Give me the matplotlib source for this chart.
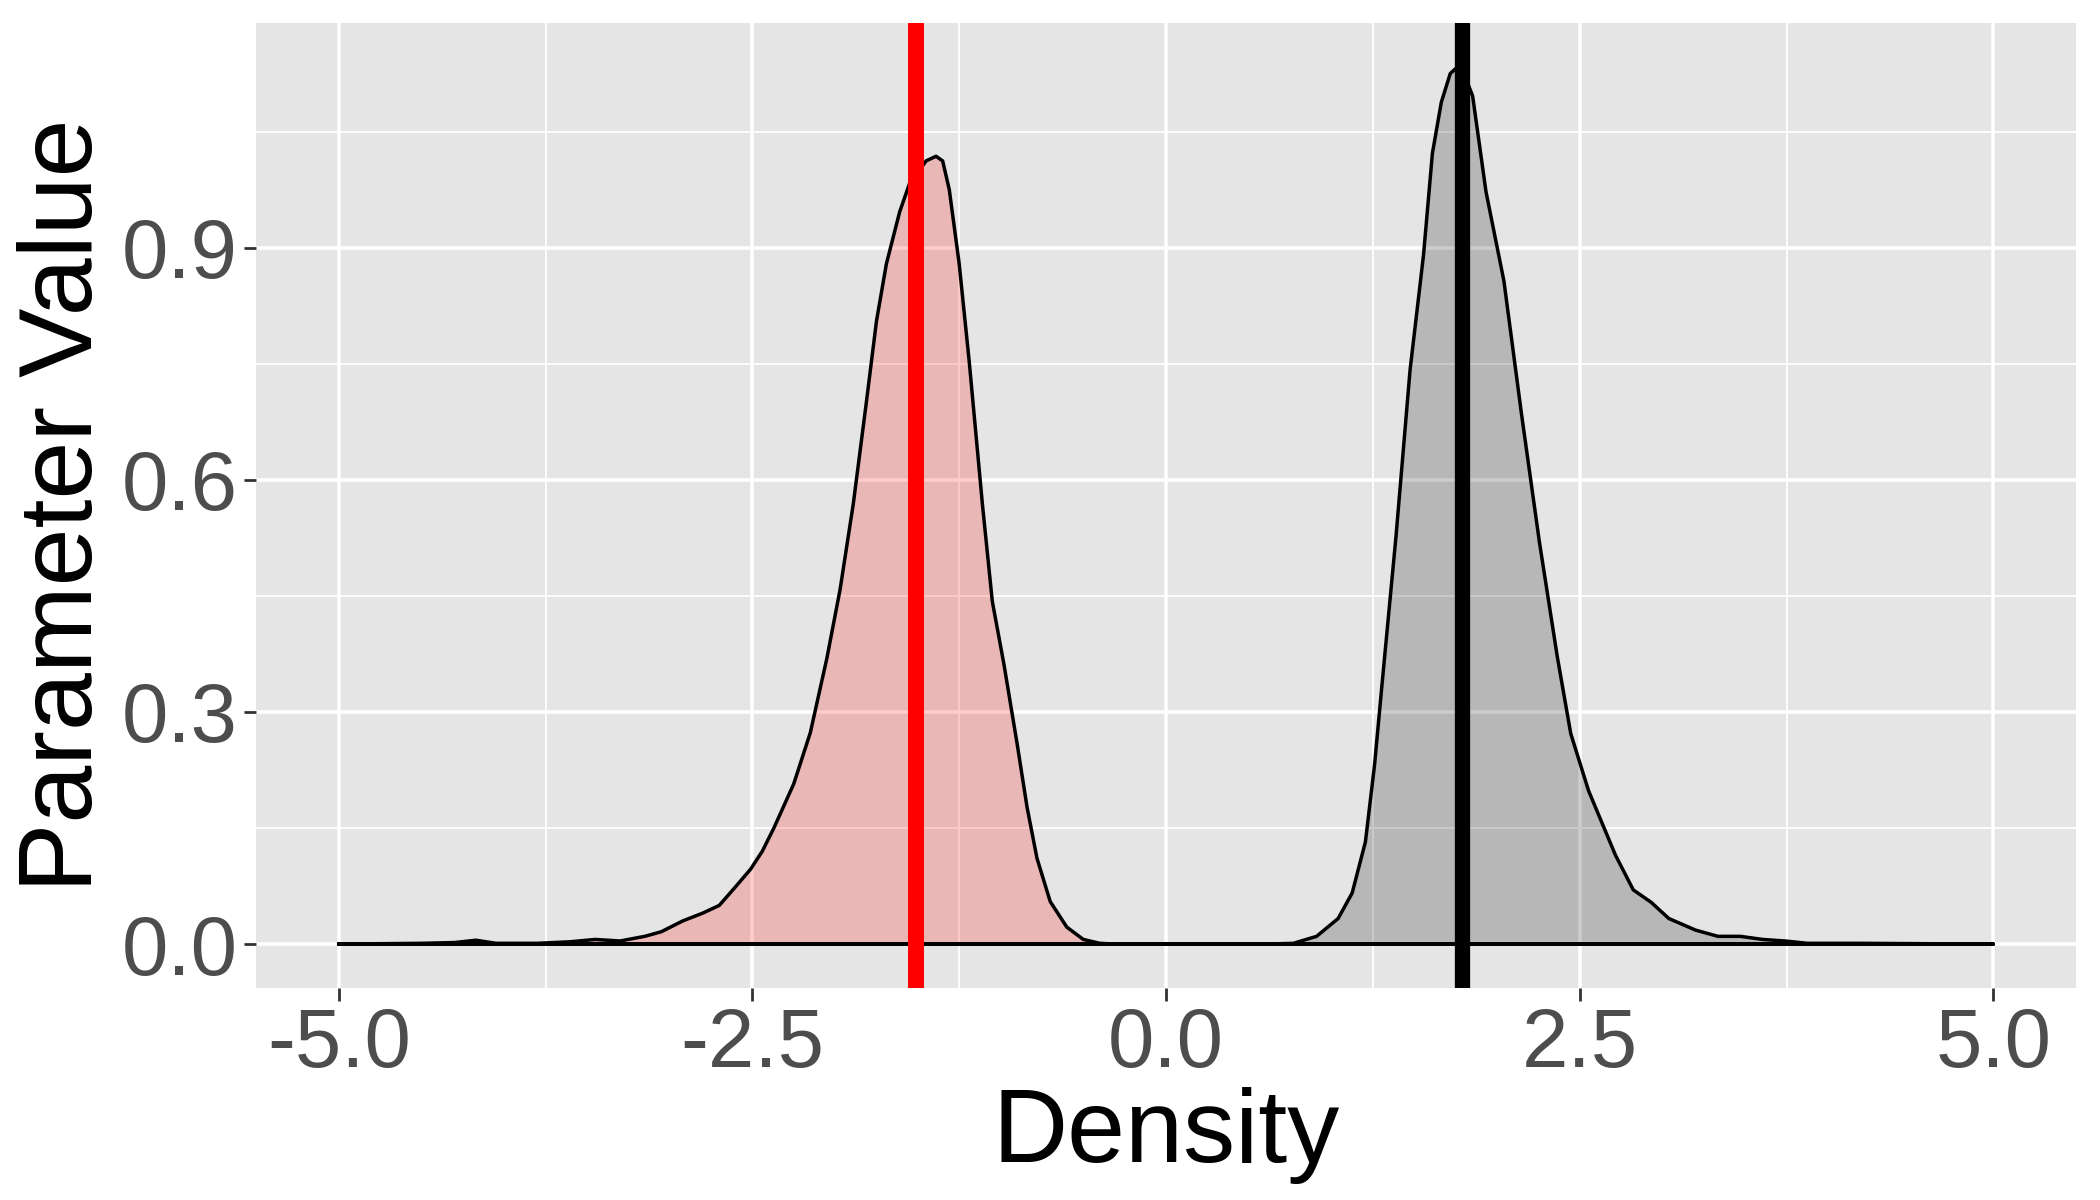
import matplotlib
matplotlib.use('Agg')
import matplotlib.pyplot as plt
from matplotlib.ticker import MultipleLocator

# density curves
red_x = [-5.0, -4.5, -4.3, -4.17, -4.05, -3.8, -3.6, -3.45, -3.3, -3.15, -3.05,
         -2.92, -2.8, -2.7, -2.61, -2.51, -2.44, -2.37, -2.25, -2.15, -2.05,
         -1.97, -1.89, -1.81, -1.75, -1.69, -1.61, -1.55, -1.45, -1.39, -1.35,
         -1.31, -1.25, -1.19, -1.11, -1.05, -0.98, -0.9, -0.84, -0.78, -0.7,
         -0.6, -0.5, -0.4, -0.3, 5.0]
red_y = [0.0, 0.001, 0.002, 0.005, 0.001, 0.001, 0.003, 0.006, 0.004, 0.010, 0.016,
         0.030, 0.040, 0.050, 0.072, 0.097, 0.120, 0.150, 0.207, 0.273, 0.369,
         0.458, 0.569, 0.702, 0.805, 0.879, 0.946, 0.983, 1.012, 1.018, 1.012,
         0.975, 0.879, 0.754, 0.569, 0.443, 0.362, 0.259, 0.177, 0.111, 0.055,
         0.022, 0.006, 0.001, 0.0, 0.0]

black_x = [-5.0, 0.6, 0.77, 0.91, 1.04, 1.125, 1.205, 1.26, 1.31, 1.39, 1.475,
           1.556, 1.61, 1.664, 1.718, 1.76, 1.8, 1.853, 1.934, 2.042, 2.149,
           2.257, 2.365, 2.446, 2.554, 2.716, 2.824, 2.932, 3.039, 3.201, 3.336,
           3.471, 3.606, 3.741, 3.875, 4.2, 5.0]
black_y = [0.0, 0.0, 0.001, 0.010, 0.033, 0.066, 0.132, 0.231, 0.346, 0.527, 0.742,
           0.890, 1.022, 1.088, 1.125, 1.133, 1.125, 1.096, 0.972, 0.857, 0.684,
           0.519, 0.371, 0.272, 0.198, 0.115, 0.070, 0.054, 0.033, 0.018, 0.010,
           0.010, 0.006, 0.004, 0.001, 0.001, 0.0]

red_line = -1.51
black_line = 1.79

x_ticks = [-5.0, -2.5, 0.0, 2.5, 5.0]
y_ticks = [0.0, 0.3, 0.6, 0.9]

plt.rcParams['font.family'] = ['Liberation Sans', 'DejaVu Sans']

fig = plt.figure(figsize=(21, 12), dpi=100)
ax = fig.add_axes([0.1219, 0.1767, 0.8667, 0.804])
ax.set_facecolor('#E5E5E5')

ax.fill(red_x, red_y, facecolor='red', alpha=0.2, edgecolor='none', zorder=2)
ax.fill(black_x, black_y, facecolor='black', alpha=0.2, edgecolor='none', zorder=2)
ax.plot(red_x + [red_x[0]], red_y + [red_y[0]], color='black', lw=2.5, zorder=3,
        solid_joinstyle='round')
ax.plot(black_x + [black_x[0]], black_y + [black_y[0]], color='black', lw=2.5, zorder=3,
        solid_joinstyle='round')

ax.axvline(red_line, color='#FF0000', lw=11.5, zorder=4)
ax.axvline(black_line, color='black', lw=11, zorder=4)

ax.set_xlim(-5.5, 5.5)
ax.set_ylim(-0.0567, 1.19)
ax.set_xticks(x_ticks)
ax.set_yticks(y_ticks)
ax.set_xticklabels([f'{v:.1f}' for v in x_ticks])
ax.set_yticklabels([f'{v:.1f}' for v in y_ticks])
ax.xaxis.set_minor_locator(MultipleLocator(1.25))
ax.yaxis.set_minor_locator(MultipleLocator(0.15))

ax.grid(which='major', color='white', lw=2.6, zorder=1)
ax.grid(which='minor', color='white', lw=1.3, zorder=1)
ax.set_axisbelow(True)
for s in ax.spines.values():
    s.set_visible(False)

ax.tick_params(which='major', length=9, width=2, color='#333333',
               labelsize=60, labelcolor='#4D4D4D', pad=4)
ax.tick_params(which='minor', length=0)

ax.set_xlabel('Density', fontsize=75, labelpad=2)
ax.set_ylabel('Parameter Value', fontsize=75, labelpad=6)

fig.savefig('out.png', dpi=100, facecolor='white')
